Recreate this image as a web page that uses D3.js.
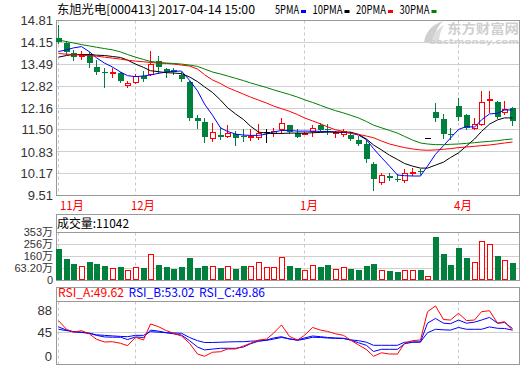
<!DOCTYPE html>
<html>
<head>
<meta charset="utf-8">
<script src="https://cdn.jsdelivr.net/npm/d3@7"></script>
<style>
  body { margin: 0; background: #fff; }
  svg { display: block; }
</style>
</head>
<body>
<svg id="chart" width="520" height="365"></svg>
<script>
// ---- data ----
const openP = [14.27,14.13,13.84,13.75,13.81,13.41,13.26,13.22,13.21,12.87,12.95,13.13,13.18,13.57,13.33,13.31,13.16,12.95,11.85,11.75,
  11.24,11.33,11.31,11.36,11.30,11.28,11.29,11.43,11.41,11.53,11.65,11.41,11.38,11.46,11.63,11.52,11.39,11.36,11.35,11.18,
  11.06,10.46,9.93,10.11,10.02,9.98,10.20,10.24,11.26,12.03,11.84,11.37,12.23,11.96,11.54,11.69,12.39,12.34,12.03,12.16];
const highP = [14.66,14.19,13.93,13.90,13.85,13.62,13.36,13.36,13.24,12.99,13.19,13.29,13.88,13.73,13.38,13.36,13.26,12.99,11.96,11.86,
  11.71,11.59,11.66,11.46,11.51,11.51,11.69,11.51,11.56,11.86,11.66,11.51,11.43,11.63,11.71,11.69,11.46,11.51,11.43,11.31,
  11.19,10.53,10.19,10.19,10.16,10.31,10.33,10.31,11.26,12.31,11.99,11.56,12.46,11.98,11.86,12.68,12.68,12.36,12.38,12.19];
const lowP = [14.13,13.81,13.61,13.63,13.41,13.20,12.81,13.09,12.96,12.81,12.91,12.99,13.16,13.23,13.09,13.19,12.99,11.81,11.56,11.13,
  11.16,11.23,11.29,11.03,11.16,11.19,11.23,11.13,11.31,11.41,11.41,11.29,11.36,11.31,11.46,11.36,11.29,11.31,11.19,11.03,
  10.51,9.69,9.87,9.99,9.96,9.91,10.13,10.16,11.26,11.76,11.26,11.21,11.81,11.51,11.51,11.63,12.03,11.86,11.99,11.66];
const closeP = [14.15,13.86,13.71,13.78,13.51,13.25,13.21,13.24,12.99,12.93,13.13,13.03,13.49,13.39,13.26,13.25,13.04,11.85,11.78,11.29,
  11.44,11.29,11.41,11.26,11.28,11.31,11.40,11.43,11.47,11.71,11.43,11.29,11.40,11.56,11.49,11.50,11.42,11.46,11.23,11.08,
  10.61,10.01,10.13,10.03,10.00,10.18,10.22,10.22,11.26,11.86,11.36,11.35,11.89,11.56,11.68,12.34,12.43,11.89,12.13,11.76];

// volume, in 万
const volume = [219,137,96,83,113,96,85,64,72,53,77,64,183,88,72,56,72,145,64,85,
  80,69,83,56,85,83,118,77,77,159,85,64,53,94,77,94,58,75,61,47,
  80,96,47,42,31,53,47,47,4,316,178,88,227,145,113,284,259,162,129,110];

const ma5 = [13.87,13.92,13.98,14.02,13.86,13.68,13.52,13.40,13.25,13.14,13.11,13.13,13.16,13.21,13.25,13.27,13.28,13.00,12.68,12.28,
  11.94,11.56,11.45,11.37,11.34,11.33,11.33,11.37,11.43,11.48,11.48,11.46,11.46,11.46,11.45,11.45,11.43,11.42,11.40,11.34,
  11.20,10.93,10.66,10.40,10.13,10.11,10.10,10.10,10.40,10.76,11.02,11.25,11.51,11.60,11.58,11.80,11.98,12.00,12.10,12.10];
const ma10 = [13.70,13.75,13.78,13.78,13.78,13.76,13.75,13.72,13.69,13.61,13.49,13.39,13.29,13.26,13.23,13.22,13.20,13.10,12.96,12.80,
  12.63,12.40,12.17,11.98,11.81,11.61,11.43,11.40,11.39,11.39,11.40,11.40,11.40,11.41,11.42,11.43,11.43,11.43,11.43,11.36,
  11.22,11.04,10.89,10.73,10.60,10.48,10.40,10.34,10.34,10.43,10.52,10.66,10.80,11.01,11.22,11.45,11.67,11.80,11.86,11.86];
const ma20 = [13.81,13.79,13.78,13.76,13.74,13.73,13.70,13.67,13.64,13.61,13.58,13.56,13.54,13.52,13.51,13.49,13.46,13.43,13.34,13.17,
  13.01,12.90,12.78,12.68,12.58,12.49,12.40,12.31,12.22,12.14,12.06,11.96,11.86,11.77,11.68,11.59,11.50,11.45,11.40,11.36,
  11.31,11.26,11.16,11.07,11.01,10.96,10.92,10.89,10.88,10.89,10.91,10.93,10.96,10.98,11.00,11.02,11.04,11.07,11.10,11.13];
const ma30 = [14.22,14.17,14.13,14.08,14.04,14.00,13.96,13.92,13.86,13.78,13.70,13.63,13.57,13.54,13.52,13.51,13.49,13.46,13.42,13.34,
  13.25,13.19,13.13,13.06,12.99,12.92,12.85,12.78,12.71,12.64,12.57,12.49,12.41,12.33,12.24,12.16,12.08,12.01,11.94,11.86,
  11.75,11.64,11.56,11.48,11.40,11.30,11.19,11.10,11.07,11.05,11.05,11.06,11.07,11.09,11.11,11.13,11.15,11.17,11.20,11.22];

const rsiA = [67.8,51.5,45.8,48.9,42.6,32.6,27.5,28.0,25.0,20.5,36.4,31.3,61.6,56.4,48.9,43.9,38.8,25.0,4.7,0.5,
  8.0,9.1,14.2,14.2,19.9,25.0,31.0,33.0,44.0,59.7,38.0,31.3,40.0,55.0,50.0,47.5,43.0,40.0,31.3,22.0,
  13.0,0.5,7.0,4.7,4.7,25.0,30.0,31.3,84.8,95.6,70.0,69.0,81.8,68.0,69.0,84.8,86.7,63.0,65.9,49.62];
const rsiB = [56,50,47,46,44,40,37,36.5,36.5,32,37,36,50,48,45,43,40.5,30,18,12.5,
  14,15.5,15.5,15.5,18,24,29,31,35,37.5,33,31.5,35,38.8,37.5,36,35,34.5,31,26,
  21,9.5,13.6,13.6,13.6,24,27,27.5,63,72,63,62,69,63,65,69,74,63,64.4,53.02];
const rsiC = [51.5,49,47,45.5,44,41,40,39,38,37.5,40,40,47,46,45,44.5,44,36,30,26.5,
  26.5,27,27.5,28,28,29,29.5,30.5,33,36,33.5,30.5,33,36.4,36,35,34.5,34,31.5,29.9,
  27,21.2,21.2,21.2,21.2,27,27.5,27.5,45,51.5,50.5,50,55,51.5,51.5,51.5,56,53.4,53,49.86];

const priceTicks = [9.51, 10.17, 10.83, 11.50, 12.16, 12.82, 13.49, 14.15, 14.81];
const volTicks = [0, 63.20, 160, 256, 353];
const volTickLabels = ["0", "63.20万", "160万", "256万", "353万"];
const rsiTicks = [0, 45, 88];
const monthIdx = [0, 10, 32, 52];
const monthLabels = ["11月", "12月", "1月", "4月"];

const maNames = ["5PMA", "10PMA", "20PMA", "30PMA"];
const maColors = ["#0000ff", "#000000", "#ff0000", "#008000"];
const maSeries = [ma5, ma10, ma20, ma30];

const stockTitle = "东旭光电[000413] 2017-04-14 15:00";
const volTitle = "成交量:11042";
const rsiTitles = ["RSI_A:49.62", "RSI_B:53.02", "RSI_C:49.86"];
const rsiColors = ["#ff0000", "#0000ff", "#0000ff"];

const UP = "#ff0000", DOWN = "#00803c";

// ---- layout ----
const left = 56.5, right = 519.5;
const main = { top: 20.5, bottom: 195.5 };
const vol = { top: 214.5, sep: 232.5, bottom: 280.5 };
const rsi = { top: 287.5, sep: 301.5, bottom: 364.5 };

const svg = d3.select("#chart");

const x = d3.scaleLinear().domain([0, closeP.length - 1]).range([58, 512]);
const cx = i => Math.round(x(i));
const y = d3.scaleLinear().domain([9.51, 14.81]).range([main.bottom, main.top]);
const yV = d3.scaleLinear().domain([-34, 353]).range([vol.bottom, vol.sep]);
const yR = d3.scaleLinear().domain([0, 88]).range([356.5, 310]);

// bitmap-like text: 12px for CJK, 6px for ascii
function bmWidth(s) {
  let w = 0;
  for (const ch of s) w += /[\u0000-\u00ff]/.test(ch) ? 6 : 12;
  return w;
}
function bmText(g, tx, ty, s, color) {
  return g.append("text")
    .attr("x", tx).attr("y", ty)
    .attr("textLength", bmWidth(s))
    .attr("lengthAdjust", "spacingAndGlyphs")
    .style("font-family", "'Noto Sans CJK SC', sans-serif")
    .style("font-size", "12px")
    .attr("fill", color)
    .text(s);
}

// ---- header: title + legend ----
bmText(svg, 57, 14, stockTitle, "#000");

let lx = 275;
maNames.forEach((n, k) => {
  bmText(svg, lx, 14, n, "#000");
  lx += bmWidth(n) + 2;
  svg.append("rect").attr("x", lx).attr("y", 10).attr("width", 5).attr("height", 3).attr("fill", maColors[k]);
  lx += 5 + 6.5;
});

// ---- watermark ----
const wm = svg.append("g").attr("fill", "#cfcfcf");
wm.append("path").attr("d", "M424,43 C425,33 431,25 443,21 C437,27 434,34 433,43 Z");
wm.append("path").attr("d", "M431,43 C433,35 437,29 444,25 C440,31 439,37 439,43 Z").attr("fill", "#dddddd");
wm.append("text").attr("x", 447).attr("y", 33)
  .style("font-family", "'Noto Sans CJK SC', sans-serif").style("font-size", "13px").style("font-weight", "bold")
  .attr("textLength", 72).attr("lengthAdjust", "spacingAndGlyphs")
  .text("东方财富网");
wm.append("text").attr("x", 429).attr("y", 44)
  .style("font-family", "'DejaVu Sans', sans-serif").style("font-size", "7px").style("font-weight", "bold")
  .attr("textLength", 90).attr("lengthAdjust", "spacingAndGlyphs")
  .text("eastmoney.com");

// ---- grid and frames ----
const grid = svg.append("g").attr("stroke", "#d0d0d0").attr("stroke-width", 1);
priceTicks.forEach(t => {
  const gy = Math.floor(y(t)) + 0.5;
  grid.append("line").attr("x1", left).attr("x2", right).attr("y1", gy).attr("y2", gy);
});
volTicks.slice(1).forEach(t => {
  const gy = Math.floor(yV(t)) + 0.5;
  grid.append("line").attr("x1", left).attr("x2", right).attr("y1", gy).attr("y2", gy);
});
grid.append("line").attr("x1", left).attr("x2", right)
  .attr("y1", Math.floor(yR(45)) + 0.5).attr("y2", Math.floor(yR(45)) + 0.5);

const dash = svg.append("g").attr("stroke", "#c8c8c8").attr("stroke-dasharray", "3,3");
monthIdx.forEach(i => {
  const mx = cx(i) + 0.5;
  [[main.top, main.bottom], [vol.sep, vol.bottom], [rsi.sep, rsi.bottom]].forEach(([a, b]) => {
    dash.append("line").attr("x1", mx).attr("x2", mx).attr("y1", a).attr("y2", b);
  });
});

const frame = svg.append("g").attr("fill", "none").attr("stroke", "#999");
frame.append("rect").attr("x", left).attr("y", main.top).attr("width", right - left).attr("height", main.bottom - main.top);
frame.append("rect").attr("x", left).attr("y", vol.top).attr("width", right - left).attr("height", vol.bottom - vol.top);
frame.append("line").attr("x1", left).attr("x2", right).attr("y1", vol.sep).attr("y2", vol.sep);
frame.append("rect").attr("x", left).attr("y", rsi.top).attr("width", right - left).attr("height", rsi.bottom - rsi.top);
frame.append("line").attr("x1", left).attr("x2", right).attr("y1", rsi.sep).attr("y2", rsi.sep);

// ---- axis labels ----
const axisFont = "'Liberation Sans', Arial, sans-serif";
svg.append("g").selectAll("text").data(priceTicks).join("text")
  .attr("x", 53).attr("y", d => y(d)).attr("dy", "0.36em")
  .attr("text-anchor", "end").attr("fill", "#333")
  .style("font-family", axisFont).style("font-size", "13px")
  .text(d => d.toFixed(2));

svg.append("g").selectAll("text").data(volTicks).join("text")
  .attr("x", 53).attr("y", d => d === 0 ? vol.bottom : yV(d)).attr("dy", "0.34em")
  .attr("text-anchor", "end").attr("fill", "#333")
  .style("font-family", axisFont + ", 'Noto Sans CJK SC'").style("font-size", "11px")
  .text((d, k) => volTickLabels[k]);

svg.append("g").selectAll("text").data(rsiTicks).join("text")
  .attr("x", 52).attr("y", d => yR(d)).attr("dy", "0.36em")
  .attr("text-anchor", "end").attr("fill", "#333")
  .style("font-family", axisFont).style("font-size", "13px")
  .text(d => d);

monthIdx.forEach((i, k) => {
  bmText(svg, Math.max(cx(i) - 4, 60), 210, monthLabels[k], "#ff0000");
});

// ---- candles ----
const cg = svg.append("g").attr("shape-rendering", "crispEdges");
closeP.forEach((cl, i) => {
  const c = cx(i), o = openP[i];
  const yO = Math.round(y(o)), yC = Math.round(y(cl));
  const yH = Math.round(y(highP[i])), yL = Math.round(y(lowP[i]));
  if (cl > o) {
    cg.append("line").attr("x1", c + 0.5).attr("x2", c + 0.5).attr("y1", yH).attr("y2", yC).attr("stroke", UP);
    cg.append("line").attr("x1", c + 0.5).attr("x2", c + 0.5).attr("y1", yO + 1).attr("y2", yL + 1).attr("stroke", UP);
    cg.append("rect").attr("x", c - 1.5).attr("y", yC + 0.5).attr("width", 5).attr("height", Math.max(yO - yC, 1))
      .attr("fill", "#fff").attr("stroke", UP);
  } else if (cl < o) {
    cg.append("line").attr("x1", c + 0.5).attr("x2", c + 0.5).attr("y1", yH).attr("y2", yL + 1).attr("stroke", DOWN);
    cg.append("rect").attr("x", c - 2).attr("y", yO).attr("width", 6).attr("height", Math.max(yC - yO, 1))
      .attr("fill", DOWN);
  } else {
    if (yH !== yL) cg.append("line").attr("x1", c + 0.5).attr("x2", c + 0.5).attr("y1", yH).attr("y2", yL + 1).attr("stroke", "#000");
    cg.append("line").attr("x1", c - 2).attr("x2", c + 4).attr("y1", yC + 0.5).attr("y2", yC + 0.5).attr("stroke", "#000");
  }
});

// ---- moving averages ----
const maLine = d3.line().x((d, i) => cx(i) + 0.5).y(d => y(d));
maSeries.forEach((s, k) => {
  svg.append("path").datum(s).attr("d", maLine)
    .attr("fill", "none").attr("stroke", maColors[k]).attr("stroke-width", 1);
});

// ---- volume ----
bmText(svg, 57, 228, volTitle, "#000");
const vg = svg.append("g").attr("shape-rendering", "crispEdges");
volume.forEach((v, i) => {
  const c = cx(i), top = Math.round(yV(v)), base = Math.floor(vol.bottom);
  if (closeP[i] >= openP[i]) {
    vg.append("rect").attr("x", c - 1.5).attr("y", top + 0.5).attr("width", 5).attr("height", Math.max(base - top - 1, 1))
      .attr("fill", "#fff").attr("stroke", UP);
  } else {
    vg.append("rect").attr("x", c - 2).attr("y", top).attr("width", 6).attr("height", base - top).attr("fill", DOWN);
  }
});

// ---- RSI ----
let rx = 58;
rsiTitles.forEach((t, k) => {
  bmText(svg, rx, 297, t, rsiColors[k]);
  rx += 70.5;
});
const rsiLine = d3.line().x((d, i) => cx(i) + 0.5).y(d => yR(d));
[[rsiC, "#0000ff"], [rsiB, "#0000ff"], [rsiA, "#ff0000"]].forEach(([s, col]) => {
  svg.append("path").datum(s).attr("d", rsiLine)
    .attr("fill", "none").attr("stroke", col).attr("stroke-width", 1);
});
</script>
</body>
</html>
